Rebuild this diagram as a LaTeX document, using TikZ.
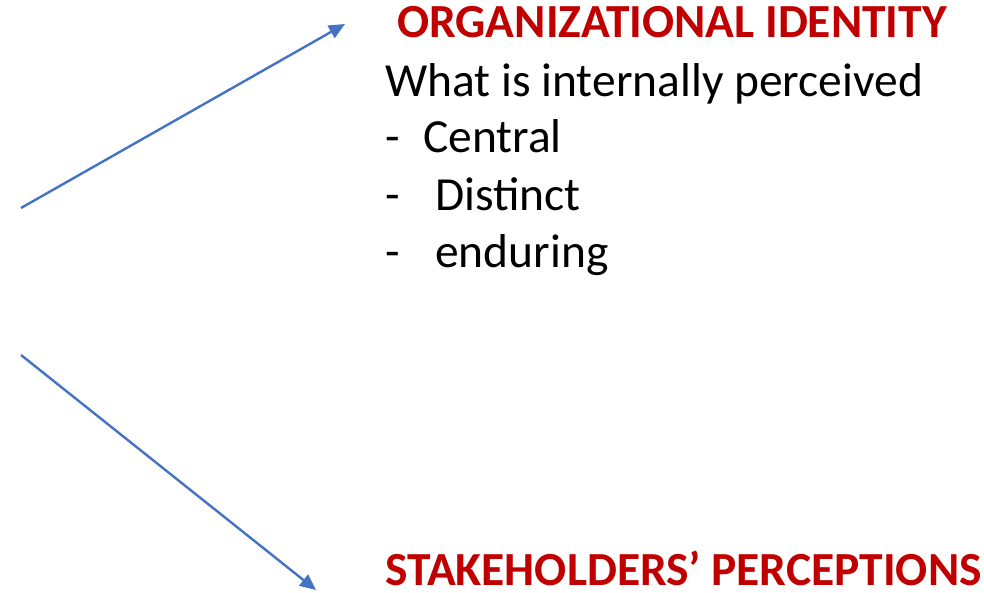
\documentclass[tikz,border=0pt]{standalone}
\usepackage{fontspec}
\setmainfont{Carlito}
\usetikzlibrary{arrows.meta}
\definecolor{arrowblue}{HTML}{4472C4}
\definecolor{titlered}{HTML}{C00000}
\tikzset{
  link/.style={draw=arrowblue, line width=2.4pt, -{Triangle[length=16pt, width=14pt]}},
  title/.style={anchor=base west, inner sep=0pt, text=titlered, font=\fontsize{47.5}{54}\selectfont\bfseries},
  line/.style={anchor=base west, inner sep=0pt, font=\fontsize{47.5}{54}\selectfont}
}
\begin{document}
\begin{tikzpicture}[x=1pt, y=-1pt]
  \useasboundingbox (0,0) rectangle (984,593);
  % headings
  \node[title] (identity) at (397,38) {ORGANIZATIONAL IDENTITY};
  \node[title] (perceptions) at (385,585) {STAKEHOLDERS’ PERCEPTIONS};
  % list under the first heading
  \node[line] (what) at (385,97) {What is internally perceived};
  \node[line] (d1) at (385,153) {-};
  \node[line] (central) at (423,153) {Central};
  \node[line] (d2) at (385,211) {-};
  \node[line] (distinct) at (435,211) {Distinct};
  \node[line] (d3) at (385,268) {-};
  \node[line] (enduring) at (435,268) {enduring};
  % arrows
  \coordinate (upstart) at (21,208);
  \coordinate (upend) at (345,24);
  \coordinate (downstart) at (21,355);
  \coordinate (downend) at (316,590);
  \draw[link] (upstart) -- (upend);
  \draw[link] (downstart) -- (downend);
\end{tikzpicture}
\end{document}
